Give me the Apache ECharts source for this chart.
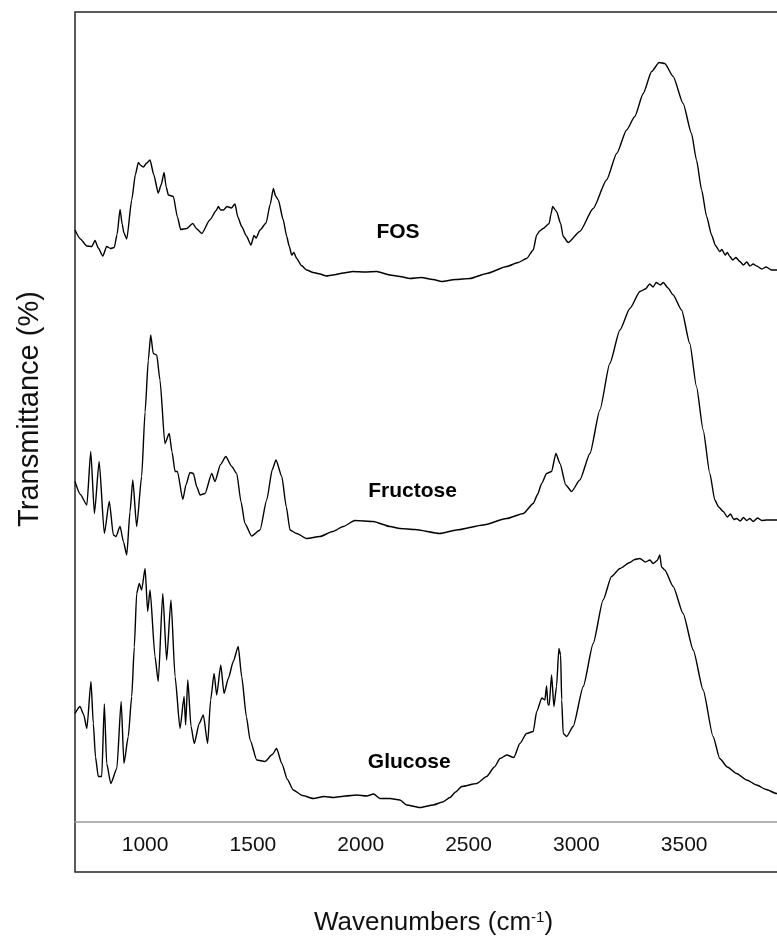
<!DOCTYPE html>
<html>
<head>
<meta charset="utf-8">
<script src="https://cdn.jsdelivr.net/npm/echarts@6/dist/echarts.min.js"></script>
<style>
html, body { margin: 0; padding: 0; background: #fff; }
#chart { width: 777px; height: 938px; }
</style>
</head>
<body>
<div id="chart"></div>
<script>
// FTIR spectra, stacked with vertical offsets: [wavenumber (cm-1), transmittance (a.u.)]
const fosSpectrum = [
  [675,128.4],[700,126.6],[730,125.2],[753,125.1],[768,126.3],[783,124.8],[804,123.2],[822,125.1],[840,124.7],[857,124.9],
  [870,127.5],[884,132.5],[894,129.5],[902,127.8],[915,126.6],[938,134.4],[955,139.5],[969,141.9],[980,141.3],[992,141.0],
  [1008,141.8],[1023,142.4],[1040,139.5],[1061,135.8],[1075,137.5],[1088,139.9],[1098,137.0],[1108,135.4],[1131,135.1],[1150,131.0],
  [1165,128.5],[1193,128.7],[1221,129.7],[1240,128.6],[1263,127.7],[1300,130.4],[1330,132.3],[1340,133.1],[1350,132.4],[1363,132.4],
  [1380,133.1],[1400,132.8],[1417,133.6],[1430,131.0],[1448,129.1],[1470,127.2],[1491,125.4],[1505,127.3],[1515,126.8],[1533,128.4],
  [1561,129.8],[1580,133.5],[1595,136.7],[1605,135.2],[1618,134.4],[1640,130.5],[1657,127.1],[1668,125.2],[1680,123.4],[1690,123.9],
  [1703,122.7],[1725,121.3],[1749,120.4],[1780,119.9],[1811,119.6],[1840,119.2],[1871,119.4],[1920,119.8],[1964,120.1],[2020,120.0],
  [2074,120.1],[2136,119.4],[2182,119.1],[2228,118.7],[2280,118.9],[2336,118.5],[2375,118.1],[2440,118.5],[2506,118.7],[2584,119.7],
  [2677,121.1],[2730,121.9],[2769,122.7],[2800,124.4],[2816,127.4],[2830,128.2],[2846,128.7],[2874,129.7],[2882,131.5],[2890,133.1],
  [2908,132.1],[2927,129.7],[2939,127.1],[2962,125.9],[3016,128.1],[3078,132.7],[3140,138.4],[3187,143.7],[3233,148.4],[3271,151.1],
  [3310,155.7],[3349,160.1],[3384,161.9],[3410,161.7],[3449,159.1],[3495,153.7],[3534,147.7],[3557,142.4],[3581,136.4],[3604,131.1],
  [3627,127.4],[3645,125.3],[3665,124.1],[3675,124.5],[3690,123.4],[3700,123.9],[3712,123.1],[3725,122.4],[3740,122.9],[3758,122.1],
  [3775,121.4],[3790,122.0],[3805,121.2],[3820,121.6],[3836,121.2],[3860,120.6],[3880,121.0],[3905,120.4],[3928,120.4],[3960,120.2],
  [4000,120.0]
];

const fructoseSpectrum = [
  [675,78.1],[700,75.5],[730,73.4],[748,84.1],[765,71.7],[787,82.1],[811,67.7],[834,74.1],[853,67.4],[865,67.1],
  [884,69.1],[900,66.0],[915,63.4],[930,72.0],[943,78.4],[961,69.1],[984,79.1],[1000,92.0],[1015,102.4],[1026,107.4],
  [1038,103.7],[1054,103.4],[1069,98.4],[1092,85.7],[1112,87.7],[1125,84.0],[1139,80.1],[1150,80.1],[1175,74.5],[1190,77.5],
  [1208,79.9],[1224,79.7],[1240,77.0],[1255,75.4],[1278,75.7],[1309,79.7],[1324,78.1],[1350,81.5],[1374,83.1],[1402,81.1],
  [1425,79.7],[1445,74.0],[1463,69.7],[1494,67.2],[1533,68.4],[1564,74.4],[1590,80.5],[1607,82.4],[1634,79.1],[1655,73.0],
  [1672,68.4],[1703,67.7],[1749,66.7],[1811,67.1],[1870,68.1],[1919,69.1],[1973,70.3],[2058,70.1],[2136,69.1],[2182,68.7],
  [2251,68.5],[2367,67.7],[2445,68.4],[2568,69.4],[2677,70.7],[2754,71.7],[2800,73.7],[2820,75.5],[2839,77.7],[2862,79.7],
  [2885,80.1],[2905,83.7],[2924,81.7],[2951,77.4],[2978,76.1],[3016,78.4],[3063,83.7],[3109,92.4],[3155,101.7],[3202,108.4],
  [3248,112.7],[3295,116.1],[3320,116.6],[3340,117.6],[3356,117.0],[3370,117.9],[3390,117.4],[3403,117.9],[3425,116.8],[3449,115.4],
  [3488,112.4],[3526,105.7],[3557,97.1],[3588,88.4],[3619,79.7],[3642,74.4],[3660,73.0],[3681,72.1],[3700,71.0],[3715,71.6],
  [3730,70.5],[3743,70.7],[3760,70.2],[3775,70.9],[3790,70.3],[3805,70.7],[3820,70.1],[3840,70.8],[3860,70.3],[3882,70.4],
  [3928,70.4],[4000,70.4]
];

const glucoseSpectrum = [
  [675,31.7],[698,33.1],[715,31.5],[730,28.7],[749,38.1],[760,29.7],[770,23.0],[783,19.1],[799,19.1],[811,33.6],
  [822,21.7],[841,17.7],[869,20.7],[889,34.1],[902,21.7],[922,27.1],[938,35.1],[950,45.0],[961,55.7],[973,57.7],
  [984,56.4],[1000,60.7],[1012,52.1],[1023,56.4],[1046,43.1],[1061,38.1],[1082,55.7],[1100,42.4],[1120,54.4],[1139,39.1],
  [1162,28.7],[1181,35.1],[1188,29.4],[1198,38.4],[1213,29.1],[1228,25.7],[1251,29.7],[1270,31.4],[1290,25.7],[1304,34.4],
  [1320,39.7],[1332,35.4],[1351,41.4],[1366,35.7],[1386,38.7],[1409,42.1],[1432,45.1],[1448,39.1],[1470,31.0],[1487,26.4],
  [1518,22.4],[1556,22.1],[1590,23.5],[1610,24.7],[1634,21.7],[1660,18.5],[1687,16.4],[1730,15.3],[1780,14.7],[1830,15.1],
  [1873,14.9],[1930,15.2],[1981,15.4],[2028,15.2],[2060,15.6],[2089,14.7],[2136,14.7],[2182,14.4],[2213,13.4],[2275,12.9],
  [2336,13.4],[2380,14.0],[2414,14.9],[2440,16.0],[2468,17.1],[2538,17.7],[2584,19.1],[2620,21.0],[2646,22.7],[2677,23.4],
  [2710,22.9],[2738,25.7],[2769,27.7],[2800,28.1],[2816,32.1],[2840,34.8],[2854,34.4],[2862,37.2],[2868,33.5],[2874,33.4],
  [2885,39.4],[2896,33.1],[2908,37.1],[2919,44.7],[2927,43.4],[2932,34.4],[2939,27.7],[2955,27.1],[2985,29.1],[3032,37.1],
  [3078,45.7],[3124,54.4],[3163,59.1],[3202,60.7],[3248,61.9],[3270,62.5],[3295,62.7],[3320,62.0],[3341,62.4],[3356,61.7],
  [3375,62.3],[3387,63.4],[3395,61.0],[3410,60.4],[3449,57.1],[3495,51.7],[3542,44.4],[3588,36.4],[3634,27.1],[3665,22.7],
  [3700,21.0],[3743,19.7],[3790,18.4],[3836,17.4],[3880,16.5],[3928,15.7],[4000,15.0]
];

const seriesNames = ['FOS', 'Fructose', 'Glucose'];
const spectra = [fosSpectrum, fructoseSpectrum, glucoseSpectrum];
// where each sample name sits, in data units [wavenumber, transmittance]
const nameAnchors = [[2173, 127.9], [2240, 76.1], [2225, 22.0]];
const xTickValues = [1000, 1500, 2000, 2500, 3000, 3500];
const xRange = [675, 4000];
const yRange = [0, 172];

const FONT = '"Liberation Sans", Arial, sans-serif';

const chart = echarts.init(document.getElementById('chart'), null, { renderer: 'canvas' });

const series = spectra.map((data, i) => ({
  name: seriesNames[i],
  type: 'line',
  data: data,
  showSymbol: false,
  symbol: 'none',
  smooth: 0.2,
  smoothMonotone: 'x',
  clip: true,
  lineStyle: { color: '#000', width: 1.4 },
  emphasis: { disabled: true },
  markPoint: {
    silent: true,
    symbol: 'circle',
    symbolSize: 0,
    itemStyle: { color: 'transparent' },
    label: {
      show: true,
      position: 'inside',
      formatter: seriesNames[i],
      fontFamily: FONT,
      fontWeight: 'bold',
      fontSize: 21,
      color: '#000'
    },
    data: [{ coord: nameAnchors[i] }]
  }
}));

chart.setOption({
  animation: false,
  backgroundColor: '#fff',
  grid: {
    left: 75,
    top: 12,
    right: -15,
    bottom: 66,
    show: true,
    borderColor: '#262626',
    borderWidth: 1.5,
    containLabel: false,
    outerBoundsMode: 'none'
  },
  xAxis: {
    type: 'value',
    min: xRange[0],
    max: xRange[1],
    offset: -50,
    axisLine: { show: true, onZero: false, lineStyle: { color: '#9a9a9a', width: 1.5 } },
    axisTick: { show: false },
    splitLine: { show: false },
    axisLabel: {
      customValues: xTickValues,
      formatter: (v) => String(v),
      margin: 12,
      fontFamily: FONT,
      fontSize: 21,
      lineHeight: 22,
      color: '#111'
    },
    name: 'Wavenumbers (cm{sup|-1})',
    nameLocation: 'middle',
    nameGap: 88,
    nameTextStyle: {
      fontFamily: FONT,
      fontSize: 26,
      color: '#111',
      rich: {
        sup: { fontFamily: FONT, fontSize: 15, verticalAlign: 'top', lineHeight: 22, color: '#111' }
      }
    }
  },
  yAxis: {
    type: 'value',
    min: yRange[0],
    max: yRange[1],
    axisLine: { show: false },
    axisTick: { show: false },
    axisLabel: { show: false },
    splitLine: { show: false }
  },
  graphic: [{
    type: 'text',
    x: 30,
    y: 409,
    rotation: Math.PI / 2,
    style: {
      text: 'Transmittance (%)',
      font: '29px ' + FONT,
      fill: '#111',
      align: 'center',
      verticalAlign: 'middle'
    }
  }],
  series: series
});
</script>
</body>
</html>
